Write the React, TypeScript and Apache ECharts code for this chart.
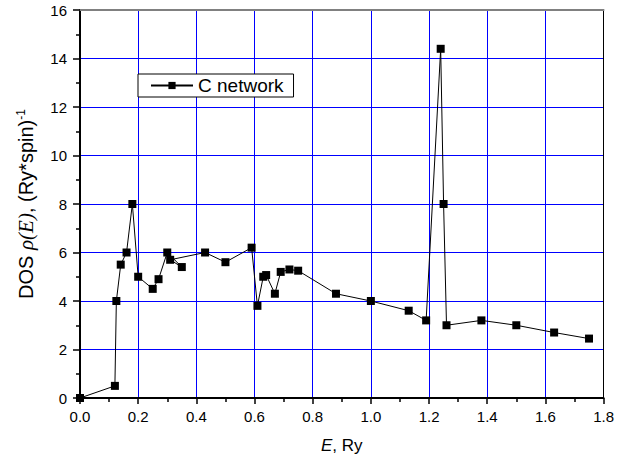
import React, { useEffect, useRef } from "react";
import * as echarts from "echarts";

const energies = [0, 0.12, 0.125, 0.14, 0.16, 0.18, 0.2, 0.25, 0.27, 0.3, 0.35, 0.31, 0.43, 0.5, 0.59, 0.61, 0.63, 0.64, 0.67, 0.69, 0.72, 0.75, 0.88, 1.0, 1.13, 1.19, 1.24, 1.25, 1.26, 1.38, 1.5, 1.63, 1.75];
const dos = [0, 0.5, 4.0, 5.5, 6.0, 8.0, 5.0, 4.5, 4.9, 6.0, 5.4, 5.7, 6.0, 5.6, 6.2, 3.8, 5.0, 5.07, 4.3, 5.2, 5.3, 5.25, 4.3, 4.0, 3.6, 3.2, 14.4, 8.0, 3.0, 3.2, 3.0, 2.7, 2.45];
const seriesName = "C network";
const xTicks = [0, 0.2, 0.4, 0.6, 0.8, 1.0, 1.2, 1.4, 1.6, 1.8];
const yTicks = [0, 2, 4, 6, 8, 10, 12, 14, 16];

const FONT = "'Liberation Sans', Arial, sans-serif";

export default function App() {
  const ref = useRef<HTMLDivElement>(null);
  useEffect(() => {
    if (!ref.current) return;
    const chart = echarts.init(ref.current, undefined, { renderer: "svg" });
    const data = energies.map((e, i) => [e, dos[i]]);
    const xMin = xTicks[0];
    const xMax = xTicks[xTicks.length - 1];
    const yMin = yTicks[0];
    const yMax = yTicks[yTicks.length - 1];
    chart.setOption({
      animation: false,
      backgroundColor: "#ffffff",
      grid: { left: 80, right: 8.5, top: 10, bottom: 65, containLabel: false },
      legend: {
        data: [seriesName],
        left: 138,
        top: 74,
        padding: [2, 10, 2, 12],
        borderColor: "#000",
        borderWidth: 1,
        borderRadius: 0,
        backgroundColor: "#fff",
        itemWidth: 42,
        itemHeight: 9,
        textStyle: { fontFamily: FONT, fontSize: 19, color: "#000" },
      },
      xAxis: [
        {
          type: "value",
          min: xMin,
          max: xMax,
          interval: 0.2,
          name: "{i|E}{n|, Ry}",
          nameLocation: "middle",
          nameGap: 39,
          nameTextStyle: {
            rich: {
              i: { fontFamily: FONT, fontSize: 17, fontStyle: "italic", color: "#000" },
              n: { fontFamily: FONT, fontSize: 17, color: "#000" },
            },
          },
          axisLine: { show: true, onZero: false, lineStyle: { color: "#000", width: 2 } },
          axisTick: { show: true, inside: false, length: 6, lineStyle: { color: "#000", width: 1.5 } },
          minorTick: { show: true, splitNumber: 2, length: 4, lineStyle: { color: "#000", width: 1.5 } },
          axisLabel: {
            fontFamily: FONT,
            fontSize: 15,
            color: "#000",
            margin: 11,
            formatter: (v: number) => v.toFixed(1),
          },
          splitLine: { show: true, lineStyle: { color: "#0000ff", width: 1 } },
        },
        {
          type: "value",
          position: "top",
          min: xMin,
          max: xMax,
          interval: 0.2,
          axisLine: { show: true, onZero: false, lineStyle: { color: "#808080", width: 2 } },
          axisTick: { show: false },
          axisLabel: { show: false },
          splitLine: { show: false },
        },
      ],
      yAxis: [
        {
          type: "value",
          min: yMin,
          max: yMax,
          interval: 2,
          name: "{n|DOS }{m|ρ(E)}{n|, (Ry*spin)}{s|-1}",
          nameLocation: "middle",
          nameRotate: 90,
          nameGap: 43,
          nameTextStyle: {
            rich: {
              n: { fontFamily: FONT, fontSize: 20, color: "#000" },
              m: { fontFamily: "'Liberation Serif', serif", fontSize: 21, fontStyle: "italic", color: "#000" },
              s: { fontFamily: FONT, fontSize: 12, color: "#000", padding: [0, 0, 10, 0] },
            },
          },
          axisLine: { show: true, onZero: false, lineStyle: { color: "#000", width: 2 } },
          axisTick: { show: true, inside: false, length: 7, lineStyle: { color: "#000", width: 1.5 } },
          minorTick: { show: true, splitNumber: 2, length: 4, lineStyle: { color: "#000", width: 1.5 } },
          axisLabel: { fontFamily: FONT, fontSize: 15, color: "#000", margin: 13 },
          splitLine: { show: true, lineStyle: { color: "#0000ff", width: 1 } },
        },
        {
          type: "value",
          position: "right",
          min: yMin,
          max: yMax,
          interval: 2,
          axisLine: { show: true, onZero: false, lineStyle: { color: "#000", width: 1 } },
          axisTick: { show: false },
          axisLabel: { show: false },
          splitLine: { show: false },
        },
      ],
      series: [
        {
          name: seriesName,
          type: "line",
          xAxisIndex: 0,
          yAxisIndex: 0,
          data,
          symbol: "rect",
          symbolSize: 8,
          showAllSymbol: true,
          lineStyle: { color: "#000", width: 1 },
          itemStyle: { color: "#000" },
        },
      ],
    });
    return () => chart.dispose();
  }, []);
  return <div ref={ref} style={{ position: "fixed", left: 0, top: 0, width: 617, height: 463 }} />;
}
